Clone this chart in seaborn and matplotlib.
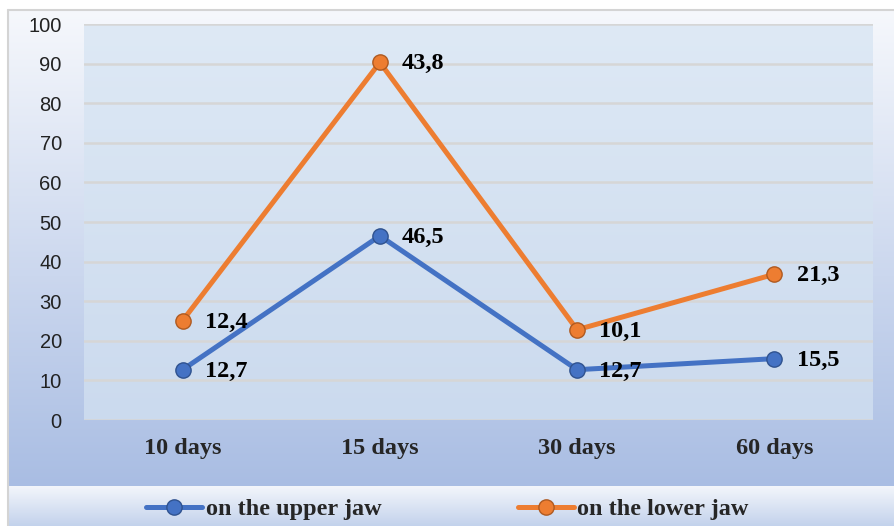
import numpy as np
import pandas as pd
import matplotlib.pyplot as plt
import seaborn as sns
from matplotlib.colors import LinearSegmentedColormap
from matplotlib.lines import Line2D

# data (stacked line chart, labels show own values)
periods = ["10 days", "15 days", "30 days", "60 days"]
upper_jaw = [12.7, 46.5, 12.7, 15.5]
lower_jaw = [12.4, 43.8, 10.1, 21.3]
series_names = ["on the upper jaw", "on the lower jaw"]
colors = ["#4472c4", "#ed7d31"]
edge_colors = ["#2f528f", "#ae5a21"]

stacked = np.cumsum([upper_jaw, lower_jaw], axis=0)
df = pd.DataFrame({
    "period": periods * 2,
    "value": np.concatenate(stacked),
    "label": np.concatenate([upper_jaw, lower_jaw]),
    "series": [series_names[0]] * 4 + [series_names[1]] * 4,
})

sns.set_style("white")
W, H = 895, 526
fig = plt.figure(figsize=(W / 100, H / 100), dpi=100)
fig.patch.set_facecolor("white")

# background layer in pixel coords
bg = fig.add_axes([0, 0, 1, 1], zorder=-1)
bg.axis("off")

def grad(ax, x0, x1, y0, y1, top, bottom):
    cmap = LinearSegmentedColormap.from_list("g", [top, bottom])
    img = np.linspace(0, 1, 256).reshape(-1, 1)
    ax.imshow(img, cmap=cmap, aspect="auto", extent=[x0, x1, y1, y0],
              interpolation="bilinear")

grad(bg, 8, W, 10, 486, "#f6f8fc", "#a9bde3")
grad(bg, 8, W, 486, H, "#f3f6fb", "#c3d2ec")
grad(bg, 84, 873, 24, 420, "#dee9f5", "#cbdaee")
bg.plot([8, W], [10, 10], color="#d4d4d4", lw=1.5)
bg.plot([8, 8], [10, H], color="#d4d4d4", lw=1.5)
bg.set_xlim(0, W)
bg.set_ylim(H, 0)

# main chart
ax = fig.add_axes([84 / W, 1 - 420 / H, (873 - 84) / W, (420 - 24) / H])
ax.set_facecolor("none")
sns.lineplot(data=df, x="period", y="value", hue="series", palette=colors,
             lw=3.6, marker="o", markersize=11, markeredgewidth=1.0,
             legend=False, ax=ax, zorder=3)
for line, ec in zip(ax.lines, edge_colors):
    line.set_markeredgecolor(ec)

ax.set_xlim(-0.5, 3.5)
ax.set_ylim(0, 100)
ax.set_yticks(range(0, 101, 10))
ax.yaxis.grid(True, color="#d6d6d6", lw=1.8)
ax.set_axisbelow(True)
for s in ax.spines.values():
    s.set_visible(False)
ax.tick_params(axis="both", length=0)
ax.tick_params(axis="y", pad=16, labelsize=14.5, labelcolor="#222222")
for t in ax.get_yticklabels():
    t.set_family("Liberation Sans")
ax.tick_params(axis="x", pad=13)
for t in ax.get_xticklabels():
    t.set_family("Liberation Serif")
    t.set_fontweight("bold")
    t.set_fontsize(17.5)
ax.set_xlabel("")
ax.set_ylabel("")

for i, row in df.iterrows():
    ax.annotate(f"{row['label']:.1f}".replace(".", ","),
                (periods.index(row["period"]), row["value"]),
                xytext=(16, -1), textcoords="offset points", va="center",
                ha="left", fontsize=17.5, fontweight="bold",
                family="Liberation Serif", color="black", zorder=4)

handles = [Line2D([0], [0], color=c, lw=3.6, marker="o", markersize=11,
                  markeredgecolor=ec)
           for c, ec in zip(colors, edge_colors)]
fig.legend(handles, series_names, loc="center", bbox_to_anchor=(0.5, 1 - 509 / H),
           ncol=2, frameon=False, handlelength=2.3, handletextpad=0.15,
           columnspacing=5.6, prop={"family": "Liberation Serif",
                                    "weight": "bold", "size": 17.5})

fig.savefig("out.png", dpi=100)
